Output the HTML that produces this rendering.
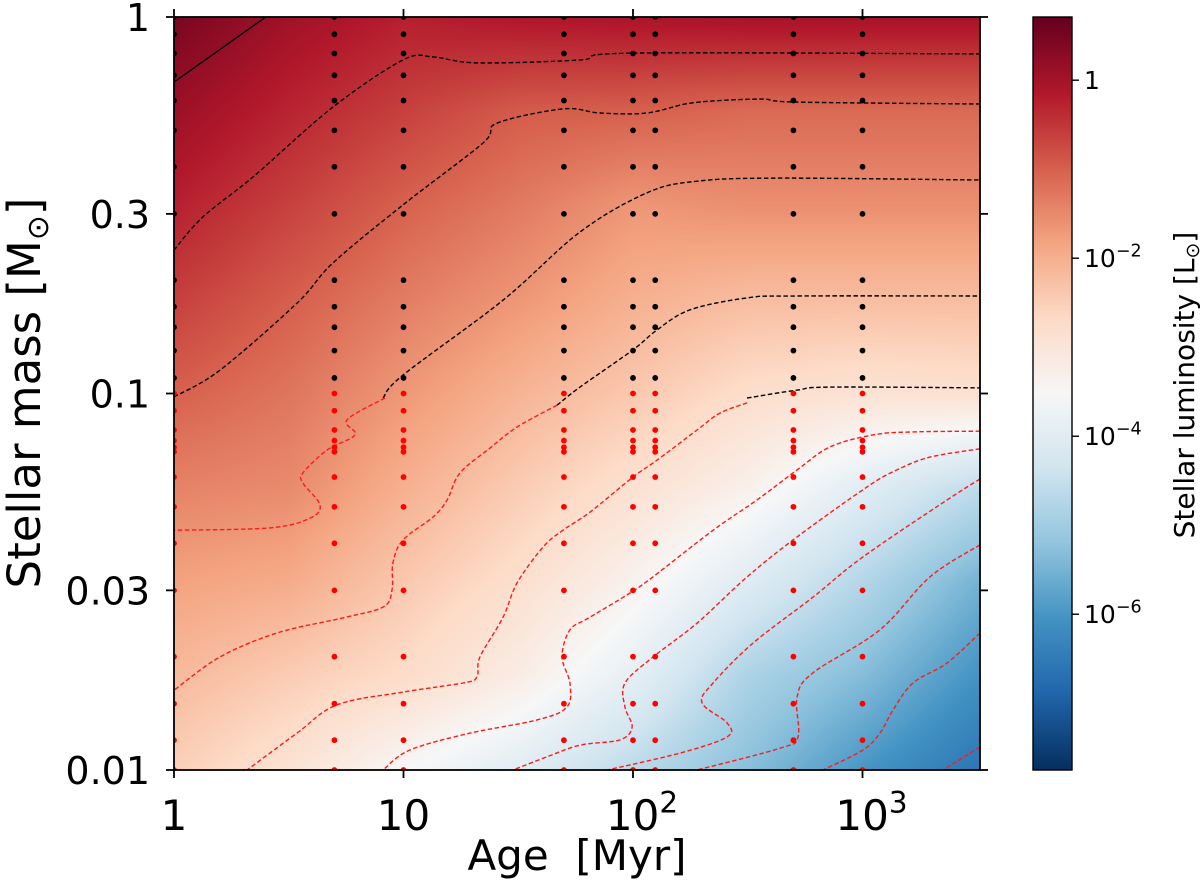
<!DOCTYPE html>
<html><head><meta charset="utf-8">
<style>
html,body{margin:0;padding:0;background:#fff;}
#wrap{position:relative;width:1200px;height:889px;overflow:hidden;font-family:"DejaVu Sans","Liberation Sans",sans-serif;}
canvas{position:absolute;}
svg{position:absolute;left:0;top:0;}
</style></head>
<body>
<div id="wrap">
<canvas id="heat" width="806" height="753" style="left:174px;top:17px"></canvas>
<canvas id="cbar" width="39" height="753" style="left:1033px;top:17px"></canvas>
<svg id="svg" width="1200" height="889" xmlns="http://www.w3.org/2000/svg"></svg>
</div>
<script>
// ---- data ----
const gridLogAges = [0, 0.5, 1, 1.5, 2, 2.5, 3, 3.5];
const gridLogMasses = [0, -0.25, -0.5, -0.75, -1, -1.25, -1.5, -1.75, -2];
// logL at grid nodes, rows = ages, cols = masses
const gridLogL = [
  [0.5, 0.12, -0.23, -0.6, -0.99, -1.4, -1.8, -2.15, -2.5],
  [0.07, -0.28, -0.62, -0.96, -1.24, -1.5, -1.93, -2.44, -2.9],
  [-0.22, -0.61, -1.0, -1.33, -1.67, -2.0, -2.37, -2.72, -3.5],
  [-0.1, -0.93, -1.3, -1.65, -2.06, -2.43, -2.8, -3.2, -4.0],
  [-0.05, -0.98, -1.65, -2.0, -2.38, -2.85, -3.35, -3.9, -4.65],
  [0.0, -1.1, -1.55, -2.2, -2.76, -3.3, -4.05, -4.85, -5.3],
  [0.0, -1.1, -1.55, -2.2, -2.9, -4.0, -4.75, -5.35, -6.0],
  [0.0, -1.1, -1.55, -2.2, -2.85, -4.6, -5.5, -6.05, -6.6]
];
const modelAges = [1, 5, 10, 50, 100, 125, 500, 1000];
const modelMasses = [1.0, 0.9, 0.8, 0.7, 0.6, 0.5, 0.4, 0.3, 0.2, 0.17, 0.15, 0.13, 0.11, 0.1, 0.09, 0.08, 0.075, 0.072, 0.07, 0.06, 0.05, 0.04, 0.03, 0.02, 0.015, 0.012, 0.01];
const xTicks = [1, 10, 100, 1000];
const xTickLabels = ["1", "10", "10|2", "10|3"];
const yTicks = [1, 0.3, 0.1, 0.03, 0.01];
const yTickLabels = ["1", "0.3", "0.1", "0.03", "0.01"];
const cbTicks = [0, -2, -4, -6];
const cbTickLabels = ["1", "10|−2", "10|−4", "10|−6"];
// contours: [logAge, logMass]
const contourSolid = [[0,-0.173],[0.40,0]];
const contourB1 = [[0,-0.619],[0.126,-0.531],[0.344,-0.425],[0.693,-0.239],[0.998,-0.114],[1.129,-0.106],[1.320,-0.122],[1.769,-0.114],[2.0,-0.096],[3.512,-0.098]];
const contourB2 = [[0,-1.009],[0.200,-0.938],[0.536,-0.760],[0.693,-0.653],[0.998,-0.499],[1.346,-0.335],[1.407,-0.282],[1.695,-0.244],[1.856,-0.255],[2.061,-0.255],[2.261,-0.228],[2.553,-0.218],[2.715,-0.226],[3.512,-0.231]];
const contourB3 = [[0.911,-1.012],[0.998,-0.951],[1.434,-0.752],[1.769,-0.571],[2.061,-0.467],[2.279,-0.436],[2.641,-0.428],[3.512,-0.433]];
const contourR3 = [[0.919,-1.012],[0.754,-1.070],[0.789,-1.110],[0.667,-1.150],[0.562,-1.211],[0.562,-1.238],[0.636,-1.296],[0.593,-1.331],[0.418,-1.357],[0,-1.363]];
const contourB4 = [[1.669,-1.031],[1.769,-0.983],[2.0,-0.884],[2.105,-0.831],[2.248,-0.778],[2.497,-0.746],[2.715,-0.741],[3.512,-0.741]];
const contourR4 = [[1.669,-1.031],[1.495,-1.089],[1.377,-1.145],[1.246,-1.211],[1.190,-1.283],[1.129,-1.328],[0.998,-1.389],[0.954,-1.450],[0.950,-1.522],[0.911,-1.567],[0.736,-1.596],[0.449,-1.636],[0.200,-1.700],[0,-1.788]];
const contourB5 = [[2.497,-1.012],[2.715,-0.991],[2.858,-0.983],[3.512,-0.985]];
const contourR5 = [[2.497,-1.025],[2.379,-1.052],[2.279,-1.097],[2.105,-1.177],[2.0,-1.222],[1.813,-1.315],[1.695,-1.363],[1.608,-1.408],[1.495,-1.503],[1.434,-1.594],[1.333,-1.700],[1.320,-1.753],[1.259,-1.769],[0.998,-1.793],[0.710,-1.827],[0.536,-1.902],[0.318,-2]];
const contourR6 = [[3.512,-1.100],[3.220,-1.102],[3.046,-1.110],[2.858,-1.142],[2.715,-1.203],[2.540,-1.283],[2.349,-1.363],[2.087,-1.487],[1.987,-1.530],[1.813,-1.594],[1.725,-1.628],[1.691,-1.700],[1.725,-1.769],[1.712,-1.833],[1.582,-1.867],[1.290,-1.902],[1.028,-1.947],[0.911,-2]];
const contourR7 = [[3.512,-1.147],[3.294,-1.169],[3.150,-1.203],[3.020,-1.248],[2.715,-1.381],[2.497,-1.487],[2.279,-1.610],[2.087,-1.700],[1.965,-1.769],[1.965,-1.833],[1.996,-1.886],[1.943,-1.920],[1.769,-1.934],[1.625,-1.965],[1.477,-2]];
const contourR8 = [[3.512,-1.227],[3.368,-1.283],[3.002,-1.434],[2.784,-1.541],[2.523,-1.663],[2.349,-1.769],[2.301,-1.822],[2.410,-1.875],[2.410,-1.912],[2.205,-1.955],[1.887,-2]];
const contourR9 = [[3.512,-1.402],[3.294,-1.487],[3.076,-1.628],[2.784,-1.742],[2.715,-1.806],[2.719,-1.912],[2.641,-1.942],[2.279,-2]];
const contourR10 = [[3.512,-1.636],[3.368,-1.716],[3.220,-1.769],[3.133,-1.841],[3.076,-1.902],[3.002,-1.947],[2.828,-2]];
const contourR11 = [[3.512,-1.939],[3.351,-2]];

// ---- axes ----
const PX0 = 174, PX1 = 980, PY0 = 17, PY1 = 770;
function xLog(la){ return PX0 + la * 229.5; }
function yLog(lm){ return PY1 - (lm + 2) * 376.5; }
function xAge(a){ return xLog(Math.log10(a)); }
function yMass(m){ return yLog(Math.log10(m)); }
const CB_MIN = -7.75, CB_MAX = 0.71;
function yCb(l){ return PY1 - (l - CB_MIN) / (CB_MAX - CB_MIN) * (PY1 - PY0); }

const stops = ["#053061","#2166ac","#4393c3","#92c5de","#d1e5f0","#f7f7f7","#fddbc7","#f4a582","#d6604d","#b2182b","#67001f"].map(h=>[parseInt(h.substr(1,2),16),parseInt(h.substr(3,2),16),parseInt(h.substr(5,2),16)]);
function cmap(l){
  let t = (l - CB_MIN) / (CB_MAX - CB_MIN);
  t = Math.max(0, Math.min(1, t)) * (stops.length - 1);
  const i = Math.min(stops.length - 2, Math.floor(t)), f = t - i;
  return stops[i].map((c,k)=>c + (stops[i+1][k]-c)*f);
}
function interpL(la, lm){
  const ai = Math.max(0, Math.min(gridLogAges.length-2, Math.floor(la/0.5)));
  let fa = (la - gridLogAges[ai]) / 0.5; fa = Math.max(0, Math.min(1, fa));
  const mi = Math.max(0, Math.min(gridLogMasses.length-2, Math.floor(-lm/0.25)));
  let fm = (gridLogMasses[mi] - lm) / 0.25; fm = Math.max(0, Math.min(1, fm));
  const a = gridLogL[ai][mi], b = gridLogL[ai][mi+1], c = gridLogL[ai+1][mi], d = gridLogL[ai+1][mi+1];
  return a*(1-fa)*(1-fm) + b*(1-fa)*fm + c*fa*(1-fm) + d*fa*fm;
}
(function(){
  const cv = document.getElementById('heat'), ctx = cv.getContext('2d');
  const W = cv.width, H = cv.height, img = ctx.createImageData(W, H);
  for (let y = 0; y < H; y++){
    const lm = -2 + (H - 1 - y) / 376.5;
    for (let x = 0; x < W; x++){
      const la = x / 229.5;
      const c = cmap(interpL(la, lm));
      const p = (y*W + x)*4;
      img.data[p]=c[0]; img.data[p+1]=c[1]; img.data[p+2]=c[2]; img.data[p+3]=255;
    }
  }
  ctx.putImageData(img, 0, 0);
  const cb = document.getElementById('cbar'), c2 = cb.getContext('2d');
  for (let y = 0; y < cb.height; y++){
    const l = CB_MAX - (y / (cb.height-1)) * (CB_MAX - CB_MIN);
    const c = cmap(l);
    c2.fillStyle = `rgb(${c[0]|0},${c[1]|0},${c[2]|0})`;
    c2.fillRect(0, y, cb.width, 1);
  }
})();

const NS = "http://www.w3.org/2000/svg";
const svg = document.getElementById('svg');
const FONT = '"DejaVu Sans","Liberation Sans",sans-serif';
function mk(tag, attrs, parent){
  const e = document.createElementNS(NS, tag);
  for (const k in attrs) e.setAttribute(k, attrs[k]);
  (parent || svg).appendChild(e);
  return e;
}
const defs = mk('defs', {});
const cp = mk('clipPath', {id:'plotclip'}, defs);
mk('rect', {x:PX0, y:PY0, width:PX1-PX0, height:PY1-PY0}, cp);

const gC = mk('g', {'clip-path':'url(#plotclip)'});


function smoothPath(P){
  if (P.length < 3) return P.map((p,i)=>(i?'L':'M')+p[0].toFixed(1)+','+p[1].toFixed(1)).join(' ');
  let d = 'M' + P[0][0].toFixed(1) + ',' + P[0][1].toFixed(1);
  for (let i = 0; i < P.length-1; i++){
    const p0 = P[Math.max(0,i-1)], p1 = P[i], p2 = P[i+1], p3 = P[Math.min(P.length-1,i+2)];
    const c1 = [p1[0]+(p2[0]-p0[0])/6, p1[1]+(p2[1]-p0[1])/6];
    const c2 = [p2[0]-(p3[0]-p1[0])/6, p2[1]-(p3[1]-p1[1])/6];
    d += ' C' + c1[0].toFixed(1)+','+c1[1].toFixed(1)+' '+c2[0].toFixed(1)+','+c2[1].toFixed(1)+' '+p2[0].toFixed(1)+','+p2[1].toFixed(1);
  }
  return d;
}
function drawContour(pts, color, dashed, name){
  const P = pts.map(p=>[xLog(p[0]), yLog(p[1])]);
  const e = mk('path', {d:smoothPath(P), fill:'none', stroke:color, 'stroke-width':1.4, 'stroke-linejoin':'round', 'stroke-dasharray': dashed ? '4.5,2.5' : 'none'}, gC);
  
  
}
drawContour(contourSolid, '#000', false, 'contour-solid');
drawContour(contourB1, '#000', true, 'contour-black-1');
drawContour(contourB2, '#000', true, 'contour-black-2');
drawContour(contourB3, '#000', true, 'contour-black-3');
drawContour(contourB4, '#000', true, 'contour-black-4');
drawContour(contourB5, '#000', true, 'contour-black-5');
drawContour(contourR3, '#ff1a1a', true, 'contour-red-3');
drawContour(contourR4, '#ff1a1a', true, 'contour-red-4');
drawContour(contourR5, '#ff1a1a', true, 'contour-red-5');
drawContour(contourR6, '#ff1a1a', true, 'contour-red-6');
drawContour(contourR7, '#ff1a1a', true, 'contour-red-7');
drawContour(contourR8, '#ff1a1a', true, 'contour-red-8');
drawContour(contourR9, '#ff1a1a', true, 'contour-red-9');
drawContour(contourR10, '#ff1a1a', true, 'contour-red-10');
drawContour(contourR11, '#ff1a1a', true, 'contour-red-11');

const gD = mk('g', {'clip-path':'url(#plotclip)'});


modelAges.forEach(a=>{
  modelMasses.forEach(m=>{
    const c = mk('circle', {cx:xAge(a), cy:yMass(m), r:2.9, fill: m <= 0.1 ? '#ff0000' : '#000'}, gD);
    
    
  });
});

const fr = mk('rect', {x:PX0, y:PY0, width:PX1-PX0, height:PY1-PY0, fill:'none', stroke:'#000', 'stroke-width':1.8});


const cf = mk('rect', {x:1033, y:PY0, width:39, height:PY1-PY0, fill:'none', stroke:'#000', 'stroke-width':1.4});



function label(x, y, str, size, anchor, name){
  const parts = str.split('|');
  const t = mk('text', {x:x, y:y, 'font-size':size, 'text-anchor':anchor, fill:'#000', 'font-family':FONT});
  
  
  t.appendChild(document.createTextNode(parts[0]));
  if (parts[1]){
    const s = mk('tspan', {'font-size':size*0.7, dy:-size*0.42}, t);
    s.textContent = parts[1];
  }
  return t;
}
xTicks.forEach((v,i)=>{
  const x = xAge(v);
  const t1 = mk('line', {x1:x, y1:PY1, x2:x, y2:PY1+8, stroke:'#000', 'stroke-width':1.8});
  
  
  const t2 = mk('line', {x1:x, y1:PY0, x2:x, y2:PY0-8, stroke:'#000', 'stroke-width':1.8});
  
  
  label(x + (xTickLabels[i].includes('|') ? 9 : 0), 830, xTickLabels[i], 42, 'middle', 'x-tick-label');
});
yTicks.forEach((v,i)=>{
  const y = yMass(v);
  const t1 = mk('line', {x1:PX0, y1:y, x2:PX0-8, y2:y, stroke:'#000', 'stroke-width':1.8});
  
  
  const t2 = mk('line', {x1:PX1, y1:y, x2:PX1+8, y2:y, stroke:'#000', 'stroke-width':1.8});
  
  
  label(150, y + 14, yTickLabels[i], 38, 'end', 'y-tick-label');
});
cbTicks.forEach((v,i)=>{
  const y = yCb(v);
  const t = mk('line', {x1:1072, y1:y, x2:1079, y2:y, stroke:'#000', 'stroke-width':1.4});
  
  
  label(1084, y + 9, cbTickLabels[i], 25, 'start', 'colorbar-tick-label');
});
const xt = mk('text', {x:577, y:870, 'font-size':42, 'text-anchor':'middle', 'font-family':FONT});


xt.textContent = 'Age\u00a0 [Myr]';
const yt = mk('text', {x:0, y:0, 'font-size':45, 'text-anchor':'middle', transform:'translate(40,393) rotate(-90)', 'font-family':FONT});


yt.appendChild(document.createTextNode('Stellar mass [M'));
const ys = mk('tspan', {'font-size':30, dy:8}, yt); ys.textContent = '⊙';
const ye = mk('tspan', {dy:-8}, yt); ye.textContent = ']';
const ct = mk('text', {x:0, y:0, 'font-size':28, 'text-anchor':'middle', transform:'translate(1194,385) rotate(-90)', 'font-family':FONT});


ct.appendChild(document.createTextNode('Stellar luminosity [L'));
const cs = mk('tspan', {'font-size':19, dy:5}, ct); cs.textContent = '⊙';
const ce = mk('tspan', {dy:-5}, ct); ce.textContent = ']';
</script>
</body></html>
